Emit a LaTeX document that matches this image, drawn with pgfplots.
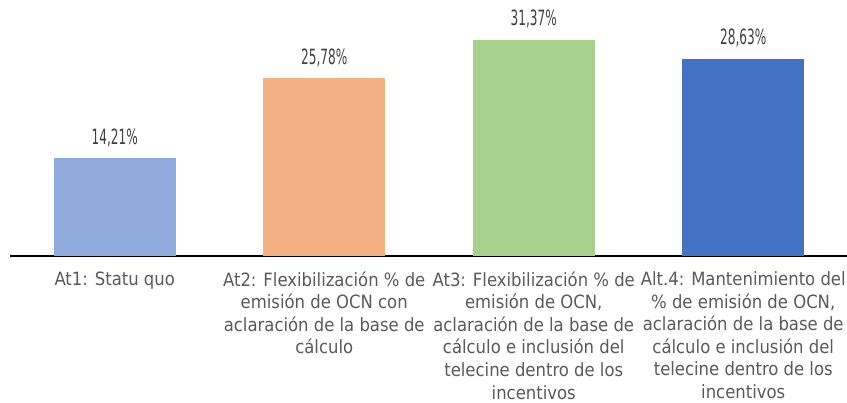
\documentclass[border=0pt]{standalone}
\usepackage{pgfplots}
\pgfplotsset{compat=1.18}
\usepackage{fontspec}
\setmainfont{DejaVu Sans Condensed}
\newfontfamily\numfont[FakeStretch=0.64]{DejaVu Sans Condensed}
\definecolor{c1}{HTML}{8FAADC}
\definecolor{c2}{HTML}{F4B183}
\definecolor{c3}{HTML}{A9D18E}
\definecolor{c4}{HTML}{4472C4}
\definecolor{txt}{HTML}{595959}
\definecolor{num}{HTML}{404040}
\begin{document}
\begin{tikzpicture}
\useasboundingbox (-10pt,-147pt) rectangle (837pt,256pt);
\begin{axis}[
  at={(0pt,0pt)}, anchor=south west,
  scale only axis, width=838pt, height=255pt,
  xmin=-0.5, xmax=3.5, ymin=0, ymax=37,
  ybar, bar width=122pt, bar shift=0pt,
  axis x line*=bottom, axis y line=none,
  x axis line style={black, line width=1.5pt, -},
  xtick={0,1,2,3}, major tick length=0pt,
  xticklabels={{At1: Statu quo},
    {At2: Flexibilización \% de\\emisión de OCN con\\aclaración de la base de\\cálculo},
    {At3: Flexibilización \% de\\emisión de OCN,\\aclaración de la base de\\cálculo e inclusión del\\telecine dentro de los\\incentivos},
    {Alt.4: Mantenimiento del\\\% de emisión de OCN,\\aclaración de la base de\\cálculo e inclusión del\\telecine dentro de los\\incentivos}},
  xticklabel style={align=center, text=txt, font=\fontsize{18.3}{22.6}\selectfont, yshift=-12pt},
  point meta=explicit symbolic,
  nodes near coords,
  every node near coord/.append style={text=num, font=\numfont\fontsize{21}{24}\selectfont, yshift=8pt},
]
\addplot[fill=c1, draw=none] coordinates {(0,14.21)[14,21\%]};
\addplot[fill=c2, draw=none] coordinates {(1,25.78)[25,78\%]};
\addplot[fill=c3, draw=none] coordinates {(2,31.37)[31,37\%]};
\addplot[fill=c4, draw=none] coordinates {(3,28.63)[28,63\%]};
\end{axis}
\end{tikzpicture}
\end{document}
